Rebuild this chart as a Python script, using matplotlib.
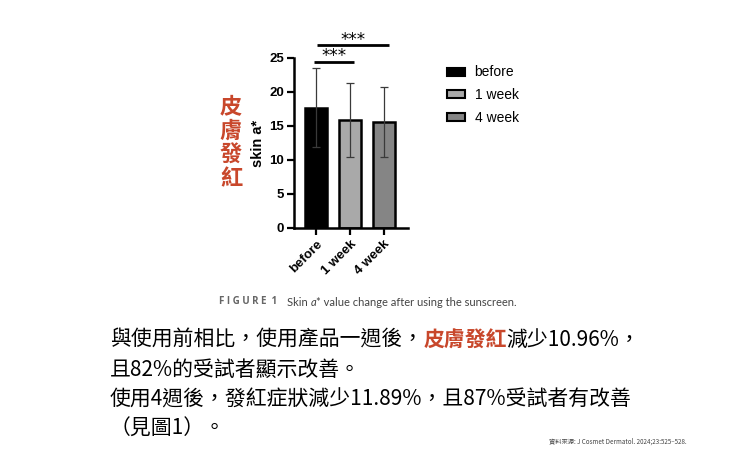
import matplotlib.pyplot as plt
from matplotlib.patches import Patch

# data
groups = ['before', '1 week', '4 week']
means = [17.7, 15.85, 15.65]
errs = [5.8, 5.45, 5.15]
bar_colors = ['#000000', '#a9a9a9', '#858585']
yticks = [0, 5, 10, 15, 20, 25]
# significance brackets: (start, end, height)
brackets = [(-0.06, 1.13, 24.45), (0.03, 2.15, 26.9)]

red = '#c8472b'
cjk = ['Noto Sans CJK TC', 'DejaVu Sans']

fig = plt.figure(figsize=(7.4, 4.63), dpi=100)
W, H = 740, 463


def fx(px):
    return px / W


def fy(py):
    return 1 - py / H


# axes box: x 294..408 px, y 58..228 px
ax = fig.add_axes([fx(294), fy(228), fx(408) - fx(294), fy(58) - fy(228)])
xpos = list(range(len(groups)))
ax.bar(xpos, means, width=0.65, color=bar_colors, edgecolor='black', linewidth=1.8, zorder=2)
ax.errorbar(xpos, means, yerr=errs, fmt='none', ecolor='#3a3a3a', elinewidth=0.9,
            capsize=3.2, capthick=0.9, zorder=3)
ax.set_xlim(-0.66, 2.72)
ax.set_ylim(0, 25)
ax.set_yticks(yticks)
ax.set_xticks(xpos)
ax.set_xticklabels(groups, rotation=45, ha='right', rotation_mode='anchor',
                   fontsize=9.5, fontweight='bold', family='Liberation Sans')
for lab in ax.get_yticklabels():
    lab.set_fontsize(9.5)
    lab.set_fontweight('bold')
    lab.set_family('Liberation Sans')
ax.spines['top'].set_visible(False)
ax.spines['right'].set_visible(False)
ax.spines['left'].set_linewidth(1.8)
ax.spines['bottom'].set_linewidth(1.8)
ax.tick_params(axis='both', direction='out', length=5, width=1.6, pad=2)
ax.set_ylabel('skin a*', fontsize=10.5, fontweight='bold', family='Liberation Sans', labelpad=3)

for x0, x1, yb in brackets:
    ax.plot([x0, x1], [yb, yb], color='black', lw=2, clip_on=False, solid_capstyle='butt')
    ax.text((x0 + x1) / 2, yb + 0.05, '***', ha='center', va='baseline', fontsize=12,
            family='DejaVu Sans', clip_on=False)

# legend
handles = [Patch(facecolor=c, edgecolor='black', linewidth=1.5) for c in bar_colors]
fig.legend(handles, groups, loc='upper left', bbox_to_anchor=(fx(434), fy(53)),
           frameon=False, handlelength=1.3, handleheight=0.5,
           labelspacing=0.62, handletextpad=0.72, prop={'family': 'Liberation Sans', 'size': 10})

# red vertical label
fig.text(fx(231), fy(143.5), '皮\n膚\n發\n紅', color=red, fontsize=16, fontweight='bold',
         ha='center', va='center', family=cjk, linespacing=1.05)


def text_chain(x, y, pieces, size, family):
    # draw pieces one after another on a line, each starting where the last one ends
    last = None
    for txt, col, wt, style in pieces:
        if last is None:
            last = fig.text(x, y, txt, color=col, fontweight=wt, fontstyle=style,
                            fontsize=size, family=family, ha='left', va='center')
        else:
            last = ax.annotate(txt, xy=(1, 0.5), xycoords=last, color=col, fontweight=wt,
                               fontstyle=style, fontsize=size, family=family,
                               ha='left', va='center', annotation_clip=False)
    return last


# caption
fig.text(fx(219), fy(302), 'F I G U R E  1', color='#666666', fontsize=7, fontweight='bold',
         ha='left', va='center', family='Open Sans')
text_chain(fx(287), fy(302), [('Skin ', '#444444', 'normal', 'normal'),
                              ('a', '#444444', 'normal', 'italic'),
                              ('* value change after using the sunscreen.', '#444444', 'normal', 'normal')],
           8, 'Lato')

# body text
lines = [
    [('與使用前相比，使用產品一週後，', 'black', 'normal', 'normal'),
     ('皮膚發紅', red, 'bold', 'normal'),
     ('減少10.96%，', 'black', 'normal', 'normal')],
    [('且82%的受試者顯示改善。', 'black', 'normal', 'normal')],
    [('使用4週後，發紅症狀減少11.89%，且87%受試者有改善', 'black', 'normal', 'normal')],
    [('（見圖1）。', 'black', 'normal', 'normal')],
]
line_y = [340, 370, 400, 429]
for pieces, py in zip(lines, line_y):
    text_chain(fx(110), fy(py), pieces, 15, cjk)

fig.text(fx(687), fy(442), '資料來源: J Cosmet Dermatol. 2024;23:525–528.', color='#444444',
         fontsize=4.5, ha='right', va='center', family=cjk)

fig.savefig('out.png', dpi=100)
